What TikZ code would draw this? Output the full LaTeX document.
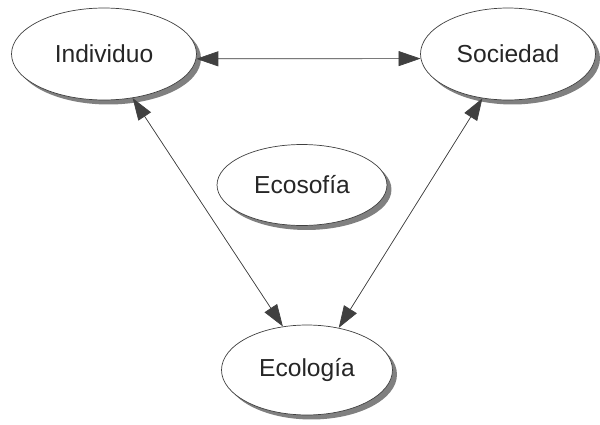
\documentclass[tikz,border=0pt]{standalone}
\usepackage{fontspec}
\setmainfont{Liberation Sans}
\usetikzlibrary{arrows.meta}
\usetikzlibrary{shapes.geometric}
\usetikzlibrary{shadows}

\begin{document}
\begin{tikzpicture}[line cap=round,line join=round,x=0.02cm,y=0.02cm,
  >={Triangle[length=0.44cm,width=0.3cm]},
  idea/.style={ellipse,draw=black!75,fill=white,inner sep=0pt,font=\fontsize{14}{16}\selectfont,text=black!85,
    drop shadow={shadow xshift=0.09cm,shadow yshift=-0.09cm,fill=black!50,opacity=1}},
  link/.style={<->,draw=black!75,fill=black!75,thin}]
\useasboundingbox (0,0) rectangle (600,424);
\node[idea,minimum width=3.7cm,minimum height=1.84cm] (ind) at (104,370) {Individuo};
\node[idea,minimum width=3.5cm,minimum height=1.84cm] (soc) at (508,370) {Sociedad};
\node[idea,minimum width=3.4cm,minimum height=1.62cm] (ecs) at (302,239) {Ecosofía};
\node[idea,minimum width=3.42cm,minimum height=1.8cm] (ecl) at (307,54) {Ecología};
\draw[link] (ind.-3) -- (soc.183);
\draw[link] (ind.-57) -- (ecl.119);
\draw[link] (soc.-120) -- (ecl.53);
\end{tikzpicture}
\end{document}
